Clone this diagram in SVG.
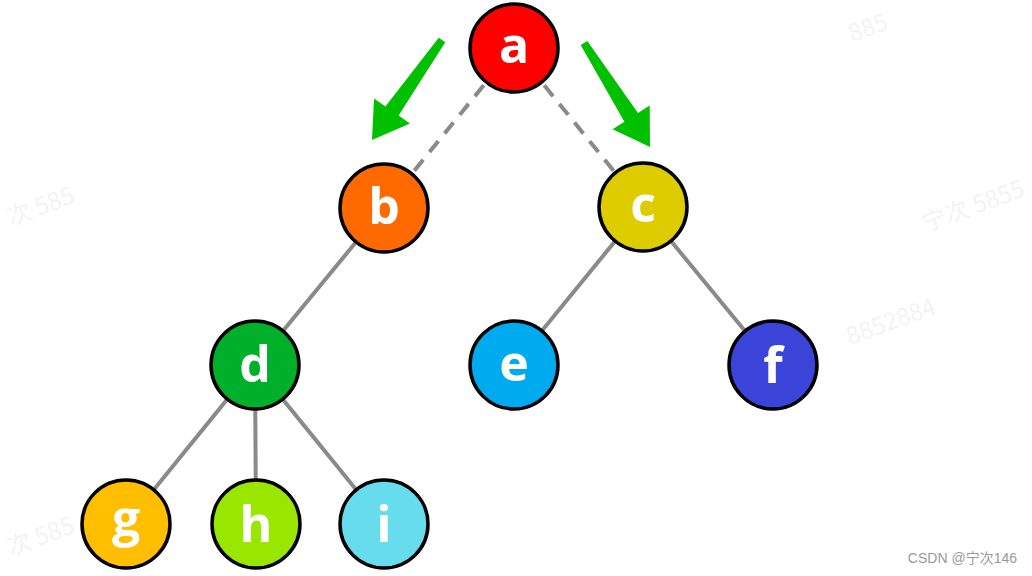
<svg xmlns="http://www.w3.org/2000/svg" width="1032" height="576" viewBox="0 0 1032 576">
<style>
.edge{stroke:#8a8a8a;stroke-width:4;fill:none}
.dash{stroke-dasharray:14 10}
.node circle{stroke:#000;stroke-width:3.5}
.node text{font-family:"Open Sans","DejaVu Sans",sans-serif;font-weight:bold;font-size:50px;fill:#fff;text-anchor:middle}
.wm{font-family:"Noto Sans CJK SC","Noto Sans",sans-serif;font-size:24px;fill:#f3f3f3}
.arrow{fill:#00c000}
</style>
<rect width="1032" height="576" fill="#fff"/>
<g id="watermarks">
<text class="wm" transform="translate(11,226) rotate(-20)">次 585</text>
<text class="wm" transform="translate(11,556) rotate(-20)">次 585</text>
<text class="wm" transform="translate(926,232) rotate(-20)">宁次 5855</text>
<text class="wm" transform="translate(850,345) rotate(-20)">8852884</text>
<text class="wm" transform="translate(852,42) rotate(-20)">885</text>
</g>
<g id="connectors">
<line class="edge dash" x1="514" y1="48" x2="384" y2="208"/>
<line class="edge dash" x1="514" y1="48" x2="643" y2="207"/>
<line class="edge" x1="384" y1="208" x2="255" y2="365"/>
<line class="edge" x1="643" y1="207" x2="514" y2="365"/>
<line class="edge" x1="643" y1="207" x2="773" y2="365"/>
<line class="edge" x1="255" y1="365" x2="126" y2="524"/>
<line class="edge" x1="255" y1="365" x2="256" y2="524"/>
<line class="edge" x1="255" y1="365" x2="384" y2="524"/>
<polygon class="arrow" points="438.7,37.7 445.3,42.3 398.6,115.6 410,123.6 372,140 374,98.4 385.4,106.4"/>
<polygon class="arrow" points="580.7,45.1 587.3,40.9 638,113.1 649.7,105.6 650,147 612.6,129.2 624.4,121.7"/>
</g>
<g id="node-a" class="node"><circle cx="514" cy="48" r="44" fill="#ff0000"/><text x="514" y="63">a</text></g>
<g id="node-b" class="node"><circle cx="384" cy="208" r="44" fill="#ff6a00"/><text x="384" y="224">b</text></g>
<g id="node-c" class="node"><circle cx="643" cy="207" r="44" fill="#dccc00"/><text x="643" y="222">c</text></g>
<g id="node-d" class="node"><circle cx="255" cy="365" r="44" fill="#00b02a"/><text x="255" y="382">d</text></g>
<g id="node-e" class="node"><circle cx="514" cy="365" r="44" fill="#00aaee"/><text x="514" y="381">e</text></g>
<g id="node-f" class="node"><circle cx="773" cy="365" r="44" fill="#3a44d8"/><text x="773" y="383">f</text></g>
<g id="node-g" class="node"><circle cx="126" cy="524" r="44" fill="#ffbe00"/><text x="126" y="536">g</text></g>
<g id="node-h" class="node"><circle cx="256" cy="524" r="44" fill="#99e600"/><text x="256" y="542">h</text></g>
<g id="node-i" class="node"><circle cx="384" cy="524" r="44" fill="#66dced"/><text x="384" y="542">i</text></g>
<text x="1017" y="563" text-anchor="end" font-family="Liberation Sans, Noto Sans CJK SC, sans-serif" font-size="14" fill="#999">CSDN @宁次146</text>
</svg>
